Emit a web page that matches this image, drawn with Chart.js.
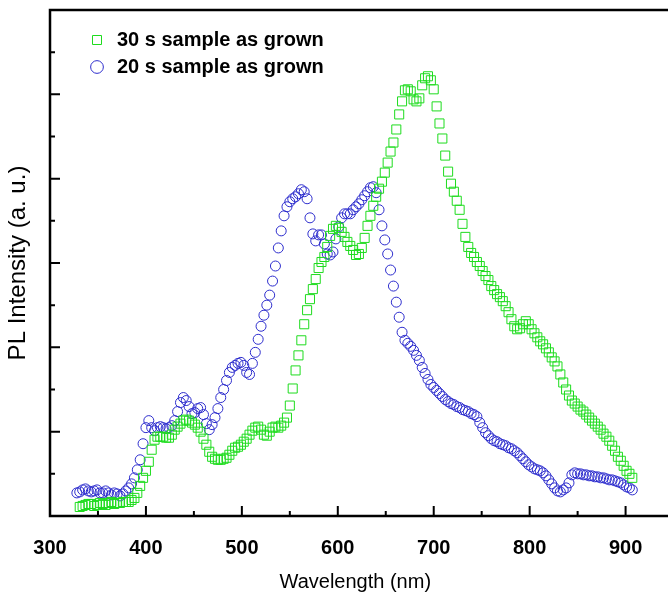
<!DOCTYPE html>
<html>
<head>
<meta charset="utf-8">
<script src="https://cdn.jsdelivr.net/npm/chart.js@4/dist/chart.umd.min.js"></script>
<style>
  html, body { margin: 0; padding: 0; background: #fff; }
  #graphPL { display: block; }
</style>
</head>
<body>
<canvas id="graphPL" width="668" height="596"></canvas>
<script>
//? Données (longueur d'onde en nm, intensité en u. a.).

const longueursOnde30s = [
  331, 334, 337, 340, 343, 346, 349, 352, 355, 358,
  361, 364, 367, 370, 373, 376, 379, 382, 385, 388,
  391, 394, 397, 400, 403, 406, 409, 412, 415, 418,
  421, 424, 427, 430, 433, 436, 439, 442, 445, 448,
  451, 454, 457, 460, 463, 466, 469, 472, 475, 478,
  481, 484, 487, 490, 493, 496, 499, 502, 505, 508,
  511, 514, 517, 520, 523, 526, 529, 532, 535, 538,
  541, 544, 547, 550, 553, 556, 559, 562, 565, 568,
  571, 574, 577, 580, 583, 586, 589, 592, 595, 598,
  601, 604, 607, 610, 613, 616, 619, 622, 625, 628,
  631, 634, 637, 640, 643, 646, 649, 652, 655, 658,
  661, 664, 667, 670, 673, 676, 679, 682, 685, 688,
  691, 694, 697, 700, 703, 706, 709, 712, 715, 718,
  721, 724, 727, 730, 733, 736, 739, 742, 745, 748,
  751, 754, 757, 760, 763, 766, 769, 772, 775, 778,
  781, 784, 787, 790, 793, 796, 799, 802, 805, 808,
  811, 814, 817, 820, 823, 826, 829, 832, 835, 838,
  841, 844, 847, 850, 853, 856, 859, 862, 865, 868,
  871, 874, 877, 880, 883, 886, 889, 892, 895, 898,
  901, 904, 907
];
const intensites30s = [
  9, 10, 11, 12, 12, 10, 11, 13, 12, 11,
  13, 14, 12, 13, 13, 14, 14, 14, 16, 18,
  23, 30, 38, 45, 54, 66, 76, 79, 79, 79,
  78, 78, 81, 86, 89, 92, 95, 96, 95, 93,
  91, 88, 84, 77, 71, 64, 59, 57, 56, 56,
  57, 58, 61, 65, 68, 69, 71, 74, 77, 81,
  85, 88, 89, 86, 81, 80, 84, 88, 89, 88,
  90, 93, 98, 110, 127, 145, 160, 175, 191, 205,
  216, 226, 236, 247, 253, 258, 268, 279, 286, 289,
  287, 283, 278, 273, 269, 265, 260, 261, 267, 277,
  289, 299, 309, 318, 326, 333, 342, 352, 363, 372,
  385, 400, 413, 424, 425, 423, 415, 413, 416, 429,
  436, 438, 434, 425, 408, 391, 376, 359, 343, 331,
  323, 314, 305, 291, 278, 268, 262, 258, 253, 249,
  244, 239, 235, 229, 225, 221, 218, 214, 209, 203,
  196, 189, 186, 187, 191, 194, 191, 186, 182, 178,
  174, 171, 167, 163, 158, 154, 149, 141, 133, 126,
  120, 115, 112, 109, 106, 104, 101, 98, 95, 92,
  89, 86, 82, 79, 75, 70, 65, 59, 55, 50,
  45, 42, 38
];

const longueursOnde20s = [
  328, 331, 334, 337, 340, 343, 346, 349, 352, 355,
  358, 361, 364, 367, 370, 373, 376, 379, 382, 385,
  388, 391, 394, 397, 400, 403, 406, 409, 412, 415,
  418, 421, 424, 427, 430, 433, 436, 439, 442, 445,
  448, 451, 454, 457, 460, 463, 466, 469, 472, 475,
  478, 481, 484, 487, 490, 493, 496, 499, 502, 505,
  508, 511, 514, 517, 520, 523, 526, 529, 532, 535,
  538, 541, 544, 547, 550, 553, 556, 559, 562, 565,
  568, 571, 574, 577, 580, 583, 586, 589, 592, 595,
  598, 601, 604, 607, 610, 613, 616, 619, 622, 625,
  628, 631, 634, 637, 640, 643, 646, 649, 652, 655,
  658, 661, 664, 667, 670, 673, 676, 679, 682, 685,
  688, 691, 694, 697, 700, 703, 706, 709, 712, 715,
  718, 721, 724, 727, 730, 733, 736, 739, 742, 745,
  748, 751, 754, 757, 760, 763, 766, 769, 772, 775,
  778, 781, 784, 787, 790, 793, 796, 799, 802, 805,
  808, 811, 814, 817, 820, 823, 826, 829, 832, 835,
  838, 841, 844, 847, 850, 853, 856, 859, 862, 865,
  868, 871, 874, 877, 880, 883, 886, 889, 892, 895,
  898, 901, 904, 907
];
const intensites20s = [
  23, 24, 26, 27, 25, 24, 25, 26, 23, 23,
  25, 23, 21, 23, 22, 20, 22, 25, 28, 32,
  38, 46, 56, 72, 88, 95, 88, 85, 88, 89,
  88, 87, 88, 90, 95, 104, 113, 118, 115, 109,
  102, 103, 107, 108, 101, 92, 86, 91, 98, 107,
  118, 126, 135, 143, 148, 150, 152, 153, 150, 143,
  141, 152, 163, 176, 189, 200, 210, 220, 234, 249,
  267, 284, 299, 308, 313, 316, 318, 321, 325, 323,
  316, 297, 281, 274, 280, 280, 271, 261, 260, 263,
  276, 288, 297, 301, 301, 301, 305, 308, 311, 315,
  319, 323, 327, 328, 322, 305, 289, 275, 261, 245,
  229, 213, 198, 183, 175, 172, 169, 165, 160, 155,
  148, 142, 136, 131, 128, 125, 122, 119, 116, 114,
  112, 111, 109, 108, 106, 105, 104, 102, 101, 99,
  93, 88, 83, 80, 77, 75, 74, 72, 71, 70,
  68, 67, 65, 63, 60, 57, 54, 51, 49, 47,
  46, 45, 43, 40, 36, 32, 28, 25, 24, 26,
  28, 33, 41, 43, 42, 42, 41, 41, 40, 40,
  39, 39, 38, 38, 37, 36, 36, 35, 34, 33,
  31, 29, 28, 26
];

// graduations de l'axe x (étiquettes tous les 100 nm, petites marques à 50)
const graduationsX = [300, 350, 400, 450, 500, 550, 600, 650, 700, 750, 800, 850, 900];

const libelles = ["30 s sample as grown", "20 s sample as grown"];

//? -------------------------------------------------

//? Cadre noir et graduations tournées vers l'intérieur.

const cadreEtGraduations = {
  id: "cadreEtGraduations",
  afterLayout(chart) {
    // légende posée dans la zone du graphique, un peu décalée
    chart.legend.left = chart.chartArea.left + 30;
    chart.legend.top = chart.chartArea.top + 13;
  },
  afterDraw(chart) {
    const { ctx, chartArea: zone, scales } = chart;
    const bordDroit = chart.width; // le cadre est coupé au bord de l'image
    ctx.save();
    ctx.strokeStyle = "#000";
    ctx.lineWidth = 2;
    ctx.beginPath();
    scales.x.ticks.forEach((t) => {
      const px = scales.x.getPixelForValue(t.value);
      const long = t.value % 100 === 0 ? 10 : 5;
      ctx.moveTo(px, zone.bottom);
      ctx.lineTo(px, zone.bottom - long);
    });
    scales.y.ticks.forEach((t, i) => {
      if (t.value <= 0 || t.value >= 504) return;
      const py = scales.y.getPixelForValue(t.value);
      const long = i % 2 === 0 ? 10 : 5;
      ctx.moveTo(zone.left, py);
      ctx.lineTo(zone.left + long, py);
    });
    ctx.stroke();

    ctx.lineWidth = 2.5;
    ctx.beginPath();
    ctx.moveTo(bordDroit, zone.top);
    ctx.lineTo(zone.left, zone.top);
    ctx.lineTo(zone.left, zone.bottom);
    ctx.lineTo(bordDroit, zone.bottom);
    ctx.stroke();
    ctx.restore();
  },
};

//? -------------------------------------------------

//? Construction du graphique.

const constructionGraphiquePL = () => {
  try {
    Chart.defaults.font.family = "'Liberation Sans', Arial, sans-serif";
    Chart.defaults.color = "#000";

    const ctx = document.getElementById("graphPL").getContext("2d");

    const points30s = longueursOnde30s.map((x, i) => ({ x, y: intensites30s[i] }));
    const points20s = longueursOnde20s.map((x, i) => ({ x, y: intensites20s[i] }));

    const data = {
      datasets: [
        {
          label: libelles[0],
          data: points30s,
          pointStyle: "rect",
          pointRadius: 6.4,
          borderColor: "rgb(30, 220, 30)",
          backgroundColor: "rgba(0, 0, 0, 0)",
          borderWidth: 1,
        },
        {
          label: libelles[1],
          data: points20s,
          pointStyle: "circle",
          pointRadius: 5,
          borderColor: "rgb(45, 45, 205)",
          backgroundColor: "rgba(0, 0, 0, 0)",
          borderWidth: 1,
        },
      ],
    };

    const options = {
      responsive: false,
      animation: false,
      devicePixelRatio: 1,
      layout: { padding: { top: 10, left: 0, right: 0, bottom: 0 } },
      plugins: {
        tooltip: { enabled: false },
        legend: {
          position: "chartArea",
          align: "start",
          labels: {
            usePointStyle: true,
            boxHeight: 9,
            padding: 7,
            font: { size: 20, weight: "bold" },
            color: "#000",
          },
        },
      },
      scales: {
        x: {
          type: "linear",
          min: 300,
          max: 936.5,
          afterBuildTicks: (scale) => {
            scale.ticks = graduationsX.map((v) => ({ value: v }));
          },
          afterFit: (scale) => {
            scale.height = 80;
          },
          grid: { display: false, drawTicks: false },
          border: { display: false },
          ticks: {
            autoSkip: false,
            maxRotation: 0,
            padding: 20,
            font: { size: 20, weight: "bold" },
            callback: (v) => (v % 100 === 0 ? String(v) : ""),
          },
          title: {
            display: true,
            text: "Wavelength (nm)",
            font: { size: 20 },
            padding: { top: 0, bottom: 2 },
          },
        },
        y: {
          min: 0,
          max: 504,
          afterFit: (scale) => {
            scale.width = 50;
          },
          grid: { display: false, drawTicks: false },
          border: { display: false },
          ticks: { display: false, stepSize: 42 },
          title: {
            display: true,
            text: "PL Intensity (a. u.)",
            font: { size: 24 },
            padding: { top: 4, bottom: 0 },
          },
        },
      },
    };

    new Chart(ctx, {
      type: "scatter",
      data,
      options,
      plugins: [cadreEtGraduations],
    });
  } catch (error) {
    console.log("🔴 ERREUR | Construction graphique PL :", error);
  }
};

constructionGraphiquePL();
</script>
</body>
</html>
